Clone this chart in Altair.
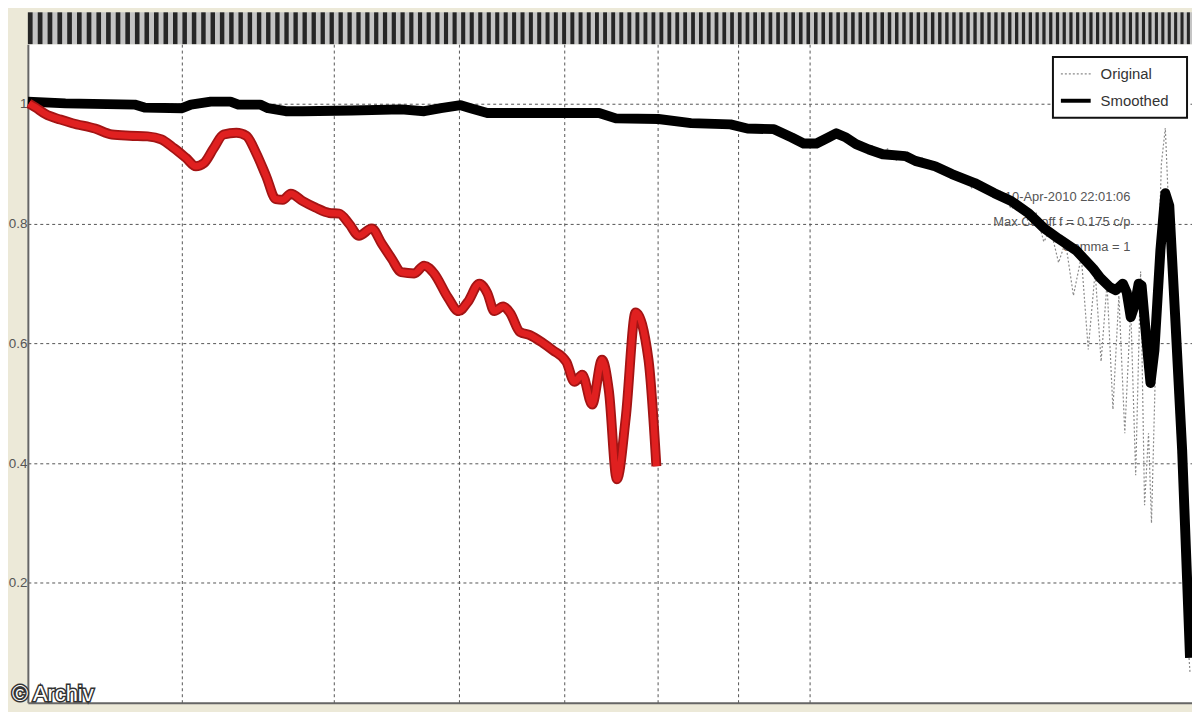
import altair as alt
import pandas as pd

# ---- data (x in sample units, y in relative value) ----
smooth_t = [0, 38, 108, 118, 156, 165, 185, 205, 213, 235, 243, 261, 278, 328, 378, 401, 418, 438, 448, 465,
            538, 578, 595, 638, 671, 711, 728, 755, 773, 785, 798, 810, 818, 828, 838, 851, 865, 888, 898, 918,
            935, 958, 978, 995, 1013, 1028, 1043, 1061, 1078, 1085, 1095, 1101, 1108, 1112, 1116, 1120, 1124,
            1127, 1131, 1136, 1140, 1146, 1151, 1155, 1161, 1168, 1173, 1176]
smooth_v = [1.004, 1.001, 0.999, 0.994, 0.993, 0.999, 1.004, 1.004, 0.999, 0.999, 0.993, 0.988, 0.988, 0.989,
            0.991, 0.988, 0.993, 0.998, 0.993, 0.985, 0.985, 0.985, 0.976, 0.975, 0.968, 0.966, 0.959, 0.958,
            0.944, 0.934, 0.934, 0.944, 0.951, 0.944, 0.933, 0.924, 0.916, 0.913, 0.905, 0.896, 0.883, 0.868,
            0.851, 0.838, 0.817, 0.793, 0.775, 0.755, 0.725, 0.710, 0.694, 0.689, 0.700, 0.685, 0.644, 0.664,
            0.700, 0.697, 0.622, 0.534, 0.589, 0.755, 0.851, 0.830, 0.644, 0.423, 0.207, 0.075]

orig_t = [0, 100, 200, 300, 420, 500, 600, 700, 760, 790, 815, 840, 855, 862, 870, 878, 885, 895, 905, 915,
          925, 935, 945, 955, 965, 975, 985, 995, 1005, 1013, 1020, 1028, 1035, 1043, 1050, 1058, 1066, 1073,
          1080, 1086, 1092, 1098, 1104, 1110, 1116, 1121, 1126, 1130, 1134, 1137, 1142, 1147, 1151, 1155,
          1160, 1166, 1172, 1176]
orig_v = [1.004, 0.998, 1.002, 0.988, 0.994, 0.985, 0.977, 0.967, 0.956, 0.935, 0.950, 0.935, 0.930, 0.918,
          0.925, 0.905, 0.915, 0.900, 0.910, 0.890, 0.895, 0.875, 0.885, 0.860, 0.870, 0.845, 0.855, 0.825,
          0.835, 0.800, 0.820, 0.770, 0.790, 0.735, 0.770, 0.680, 0.745, 0.590, 0.720, 0.570, 0.700, 0.490,
          0.680, 0.450, 0.660, 0.380, 0.720, 0.330, 0.450, 0.300, 0.620, 0.900, 0.960, 0.800, 0.560, 0.360,
          0.150, 0.050]

red_t = [1, 8, 18, 33, 45, 68, 85, 103, 121, 135, 148, 160, 170, 178, 188, 198, 211, 221, 231, 241, 251, 258,
         266, 278, 291, 305, 315, 325, 335, 348, 358, 368, 378, 391, 401, 411, 425, 436, 445, 457, 465, 472,
         481, 488, 498, 508, 521, 531, 545, 553, 561, 571, 581, 588, 596, 605, 615, 628, 636]
red_v = [1.001, 0.994, 0.983, 0.974, 0.968, 0.959, 0.949, 0.947, 0.946, 0.941, 0.926, 0.910, 0.896, 0.901,
         0.926, 0.949, 0.952, 0.947, 0.918, 0.880, 0.841, 0.840, 0.850, 0.838, 0.827, 0.818, 0.817, 0.800,
         0.780, 0.792, 0.767, 0.742, 0.719, 0.717, 0.730, 0.717, 0.677, 0.654, 0.669, 0.700, 0.684, 0.654,
         0.662, 0.651, 0.619, 0.614, 0.601, 0.589, 0.569, 0.536, 0.548, 0.498, 0.573, 0.520, 0.373, 0.476,
         0.652, 0.573, 0.395]

y_ticks = [0.2, 0.4, 0.6, 0.8, 1.0]
x_grid = [156, 310, 436, 543, 637, 719, 791]
legend_labels = ["Original", "Smoothed"]
annotation_lines = ["10-Apr-2010 22:01:06", "Max Cutoff f = 0.175 c/p", "Gamma = 1"]
watermark = "© Archiv"

# decorative stripe band (dense time ticks across the top)
band_start, band_end = [], []
pos = 0.0
while pos < 1176:
    step = 10.0 - 3.6 * pos / 1178
    band_start.append(pos)
    band_end.append(min(pos + step * 0.48, 1178))
    pos += step

W, H = 1172, 663
FONT = "Liberation Sans"

smooth_df = pd.DataFrame({"t": smooth_t, "v": smooth_v})
orig_df = pd.DataFrame({"t": orig_t, "v": orig_v})
red_df = pd.DataFrame({"t": red_t, "v": red_v})
band_df = pd.DataFrame({"t": band_start, "t2": band_end})
one = alt.Data(values=[{"a": 1}])

xscale = alt.Scale(domain=[0, 1178], nice=False, zero=False)
yscale = alt.Scale(domain=[0, 1.1], nice=False, zero=True)
xaxis = alt.Axis(values=x_grid, labels=False, ticks=False, grid=True, gridDash=[3, 3], gridColor="#555555",
                 gridWidth=1, domain=True, domainColor="#666666", domainWidth=2, title=None)
yaxis = alt.Axis(values=y_ticks, labelExpr="datum.value > 0.99 ? '1' : format(datum.value, '.1f')",
                 grid=True, gridDash=[3, 3], gridColor="#555555", gridWidth=1, domain=True,
                 domainColor="#666666", domainWidth=2, ticks=False, labelFont=FONT, labelFontSize=13.5,
                 labelColor="#555555", labelPadding=1, labelBound=False, labelFlush=False, title=None)


def X(field="t"):
    return alt.X(f"{field}:Q", scale=xscale, axis=xaxis, title=None)


def Y():
    return alt.Y("v:Q", scale=yscale, axis=yaxis, title=None)


band_bg = alt.Chart(one).mark_rect(color="#c4c4c4").encode(
    x=alt.value(0), x2=alt.value(W), y=alt.value(-32), y2=alt.value(0))
band = alt.Chart(band_df).mark_rect(color="#262626").encode(
    x=X("t"), x2="t2:Q", y=alt.value(-32), y2=alt.value(0))

ann_layers = []
for i, line in enumerate(annotation_lines):
    ann_layers.append(alt.Chart(one).mark_text(text=line, align="right", baseline="middle", font=FONT,
                                               fontSize=13, color="#555555").encode(
        x=alt.value(1110), y=alt.value(154 + 25 * i)))

orig = alt.Chart(orig_df).mark_line(color="#8a8a8a", strokeWidth=1.2, strokeDash=[2, 2]).encode(x=X(), y=Y())
smooth = alt.Chart(smooth_df).mark_line(color="#000000", strokeWidth=10, strokeJoin="round",
                                        strokeCap="butt").encode(x=X(), y=Y())
red_out = alt.Chart(red_df).mark_line(color="#a31414", strokeWidth=10, strokeJoin="round",
                                      strokeCap="butt", interpolate="monotone").encode(x=X(), y=Y())
red_in = alt.Chart(red_df).mark_line(color="#e02020", strokeWidth=6.5, strokeJoin="round",
                                     strokeCap="butt", interpolate="monotone").encode(x=X(), y=Y())

leg_box = alt.Chart(one).mark_rect(fill="white", stroke="#111111", strokeWidth=2).encode(
    x=alt.value(1032), x2=alt.value(1167), y=alt.value(13), y2=alt.value(74))
leg_orig = alt.Chart(one).mark_rule(color="#8a8a8a", strokeWidth=1.2, strokeDash=[2, 2]).encode(
    x=alt.value(1040), x2=alt.value(1070), y=alt.value(30))
leg_smooth = alt.Chart(one).mark_rule(color="#000000", strokeWidth=4).encode(
    x=alt.value(1040), x2=alt.value(1070), y=alt.value(57))
leg_text = [alt.Chart(one).mark_text(text=lab, align="left", baseline="middle", font=FONT, fontSize=15,
                                     color="#333333").encode(x=alt.value(1080), y=alt.value(30 + 27 * i))
            for i, lab in enumerate(legend_labels)]

wm_back = alt.Chart(one).mark_text(text=watermark, align="left", baseline="alphabetic", font=FONT,
                                   fontSize=22, color="#333333", stroke="#333333", strokeWidth=3).encode(
    x=alt.value(-16), y=alt.value(661))
wm_front = alt.Chart(one).mark_text(text=watermark, align="left", baseline="alphabetic", font=FONT,
                                    fontSize=22, color="#ffffff").encode(x=alt.value(-16), y=alt.value(661))

chart = alt.layer(
    band_bg, band, *ann_layers, orig, smooth, red_out, red_in, leg_box, leg_orig, leg_smooth, *leg_text,
    wm_back, wm_front
).properties(
    width=W, height=H,
    autosize=alt.AutoSizeParams(type="none"),
    padding={"left": 20, "top": 34, "right": 0, "bottom": 7},
    background="#ece9d8",
).configure_view(fill="white", strokeWidth=0)

chart.save("out.html", embed_options={"renderer": "svg", "actions": False})
